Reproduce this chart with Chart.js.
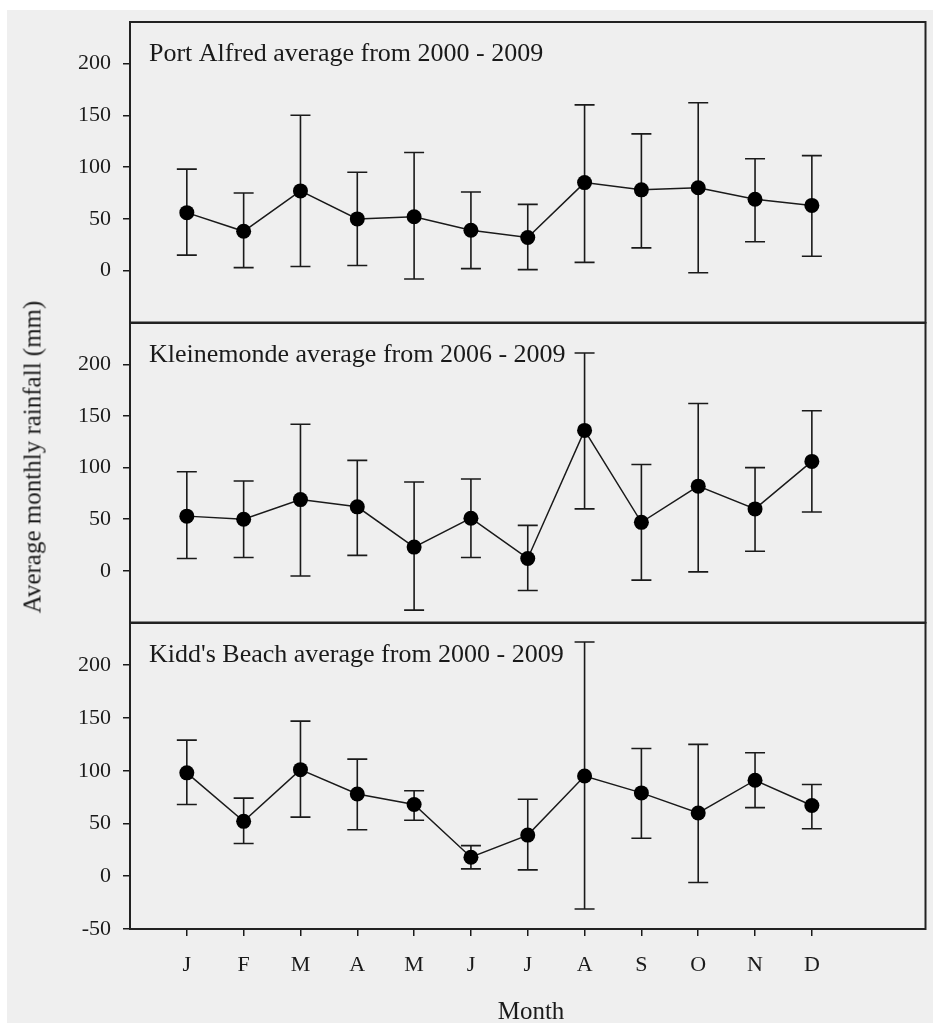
<!DOCTYPE html>
<html>
<head>
<meta charset="utf-8">
<title>Average monthly rainfall</title>
<script src="https://cdn.jsdelivr.net/npm/chart.js@4.4.1/dist/chart.umd.min.js"></script>
<style>
  html, body { margin: 0; padding: 0; background: #fff; }
  #page { position: relative; width: 933px; height: 1023px; overflow: hidden; }
  #bg { position: absolute; left: 7px; top: 10px; right: 0; bottom: 0; background: #efefef; }
  canvas { position: absolute; left: 0; }
  .lbl { position: absolute; font-family: "Liberation Serif", "Times New Roman", serif; color: #1a1a1a; white-space: nowrap; line-height: 1; }
  #ytitle { left: 32px; top: 457px; font-size: 25px; transform: translate(-50%, -50%) rotate(-90deg); }
  #xtitle { left: 531px; top: 998px; font-size: 25px; transform: translateX(-50%); }
</style>
</head>
<body>
<div id="page">
  <div id="bg"></div>
  <canvas id="portAlfred" width="933" height="330" style="top:0"></canvas>
  <canvas id="kleinemonde" width="933" height="330" style="top:300px"></canvas>
  <canvas id="kiddsBeach" width="933" height="423" style="top:600px"></canvas>
  <div class="lbl" id="ytitle">Average monthly rainfall (mm)</div>
  <div class="lbl" id="xtitle">Month</div>
</div>
<script>
// months on the x axis
const months = ['J', 'F', 'M', 'A', 'M', 'J', 'J', 'A', 'S', 'O', 'N', 'D'];
const yTicksTop = [0, 50, 100, 150, 200];
const yTicksBottom = [-50, 0, 50, 100, 150, 200];

// Port Alfred 2000 - 2009
const portAlfredMean = [56, 38, 77, 50, 52, 39, 32, 85, 78, 80, 69, 63];
const portAlfredHigh = [98, 75, 150, 95, 114, 76, 64, 160, 132, 162, 108, 111];
const portAlfredLow = [15, 3, 4, 5, -8, 2, 1, 8, 22, -2, 28, 14];

// Kleinemonde 2006 - 2009
const kleinemondeMean = [53, 50, 69, 62, 23, 51, 12, 136, 47, 82, 60, 106];
const kleinemondeHigh = [96, 87, 142, 107, 86, 89, 44, 211, 103, 162, 100, 155];
const kleinemondeLow = [12, 13, -5, 15, -38, 13, -19, 60, -9, -1, 19, 57];

// Kidd's Beach 2000 - 2009
const kiddsMean = [98, 52, 101, 78, 68, 18, 39, 95, 79, 60, 91, 67];
const kiddsHigh = [129, 74, 147, 111, 81, 29, 73, 222, 121, 125, 117, 87];
const kiddsLow = [68, 31, 56, 44, 53, 7, 6, -31, 36, -6, 65, 45];

const INK = '#1a1a1a';
Chart.defaults.font.family = '"Liberation Serif", "Times New Roman", serif';
Chart.defaults.color = INK;

// whiskers with caps, drawn through the chart scales
const ErrorBars = {
    id: 'errorBars',
    beforeDatasetsDraw(chart, _args, opts) {
        if (!opts || !opts.low) return;
        const { ctx, scales: { x, y } } = chart;
        ctx.save();
        ctx.strokeStyle = INK;
        ctx.lineWidth = 1.6;
        opts.low.forEach((lo, i) => {
            const px = x.getPixelForValue(i);
            const yLo = y.getPixelForValue(lo);
            const yHi = y.getPixelForValue(opts.high[i]);
            ctx.beginPath();
            ctx.moveTo(px, yLo);
            ctx.lineTo(px, yHi);
            ctx.moveTo(px - 10, yLo);
            ctx.lineTo(px + 10, yLo);
            ctx.moveTo(px - 10, yHi);
            ctx.lineTo(px + 10, yHi);
            ctx.stroke();
        });
        ctx.restore();
    }
};

// box round the plot plus the panel caption inside it
const PanelFrame = {
    id: 'panelFrame',
    afterDraw(chart, _args, opts) {
        const { ctx, chartArea: a } = chart;
        ctx.save();
        ctx.strokeStyle = '#222';
        ctx.lineWidth = 2;
        ctx.strokeRect(a.left, a.top, a.right - a.left, a.bottom - a.top);
        if (opts && opts.text) {
            ctx.fillStyle = INK;
            ctx.font = '26px "Liberation Serif", "Times New Roman", serif';
            ctx.textBaseline = 'alphabetic';
            ctx.fillText(opts.text, a.left + 19, a.top + 39);
        }
        ctx.restore();
    }
};

Chart.register(ErrorBars, PanelFrame);

function makePanel(canvasId, title, mean, low, high, yTicks, showX, padding) {
    const canvas = document.getElementById(canvasId);
    return new Chart(canvas, {
        type: 'line',
        data: {
            datasets: [{
                data: mean.map((v, i) => ({ x: i, y: v })),
                borderColor: INK,
                borderWidth: 1.5,
                pointRadius: 7.5,
                pointBackgroundColor: '#000',
                pointBorderWidth: 0,
                tension: 0
            }]
        },
        options: {
            responsive: false,
            animation: false,
            layout: { padding: padding },
            plugins: {
                legend: { display: false },
                tooltip: { enabled: false },
                errorBars: { low: low, high: high },
                panelFrame: { text: title }
            },
            scales: {
                x: {
                    type: 'linear',
                    min: -1,
                    max: 13,
                    display: showX,
                    afterBuildTicks: s => { s.ticks = months.map((_m, i) => ({ value: i })); },
                    afterFit: s => {
                        if (showX) s.height = 94;
                        s.paddingLeft = 0;
                        s.paddingRight = 0;
                    },
                    border: { display: false },
                    grid: { drawOnChartArea: false, drawTicks: true, tickLength: 7, color: INK, lineWidth: 1.5 },
                    ticks: {
                        padding: 16,
                        maxRotation: 0,
                        font: { size: 22 },
                        callback: v => months[v]
                    }
                },
                y: {
                    min: -50,
                    max: 240,
                    afterBuildTicks: s => { s.ticks = yTicks.map(v => ({ value: v })); },
                    afterFit: s => {
                        s.width = 130;
                        s.paddingTop = 0;
                        s.paddingBottom = 0;
                    },
                    border: { display: false },
                    grid: { drawOnChartArea: false, drawTicks: true, tickLength: 7, color: INK, lineWidth: 1.5 },
                    ticks: {
                        padding: 12,
                        font: { size: 22 }
                    }
                }
            }
        }
    });
}

makePanel('portAlfred', 'Port Alfred average from 2000 - 2009',
    portAlfredMean, portAlfredLow, portAlfredHigh, yTicksTop, false,
    { top: 22, right: 6, bottom: 7, left: 0 });
makePanel('kleinemonde', 'Kleinemonde average from 2006 - 2009',
    kleinemondeMean, kleinemondeLow, kleinemondeHigh, yTicksTop, false,
    { top: 23, right: 6, bottom: 7, left: 0 });
makePanel('kiddsBeach', "Kidd's Beach average from 2000 - 2009",
    kiddsMean, kiddsLow, kiddsHigh, yTicksBottom, true,
    { top: 23, right: 6, bottom: 0, left: 0 });
</script>
</body>
</html>
